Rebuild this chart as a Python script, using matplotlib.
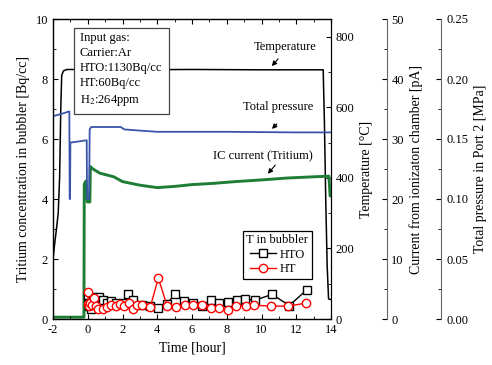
import numpy as np
import matplotlib
matplotlib.use('Agg')
import matplotlib.pyplot as plt
from matplotlib.ticker import MultipleLocator, FormatStrFormatter

plt.rcParams['font.family'] = ['Liberation Serif', 'DejaVu Serif']
plt.rcParams['mathtext.fontset'] = 'stix'
plt.rcParams['font.size'] = 9
plt.rcParams['axes.unicode_minus'] = False

# temperature [degC] vs time [hour]
temp_t = [-2.0, -1.9, -1.8, -1.7, -1.62, -1.55, -1.5, -1.4, -1.2, 2.0, 6.0, 10.0, 13.55,
          13.62, 13.7, 13.78, 13.86, 14.0]
temp_v = [170, 215, 255, 300, 400, 600, 690, 703, 707, 706, 707, 706, 706,
          560, 330, 150, 57, 55]

# total pressure in port 2 [MPa]
pres_t = [-2.0, -1.5, -1.06, -1.04, -1.02, -1.0, -0.5, -0.06, -0.04, 0.08, 0.11, 0.2, 1.0,
          1.9, 2.1, 3.0, 4.0, 8.0, 12.0, 14.0]
pres_v = [0.169, 0.171, 0.173, 0.100, 0.100, 0.147, 0.148, 0.149, 0.100, 0.100, 0.158, 0.160, 0.160,
          0.160, 0.158, 0.157, 0.156, 0.156, 0.1555, 0.1555]

# IC current [pA]
cur_t = [-2.0, -0.22, -0.2, -0.1, -0.02, 0.12, 0.15, 0.3, 0.7, 1.5, 2.0, 3.0, 4.0, 5.0, 6.0,
         7.2, 8.5, 10.1, 11.5, 13.0, 13.88, 13.95, 14.0]
cur_v = [0.3, 0.3, 22.5, 23.0, 19.5, 19.5, 25.4, 25.0, 24.3, 23.7, 22.9, 22.3, 21.9, 22.1, 22.4,
         22.6, 22.9, 23.2, 23.5, 23.7, 23.8, 20.5, 20.5]

# tritium in bubbler [Bq/cc]
hto_t = [0.0, 0.05, 0.1, 0.2, 0.3, 0.45, 0.65, 0.85, 1.1, 1.35, 1.65, 2.0, 2.3, 2.6, 3.1, 3.6,
         4.05, 4.55, 5.05, 5.55, 6.05, 6.55, 7.1, 7.55, 8.1, 8.6, 9.05, 9.6, 10.6, 11.6, 12.6]
hto_v = [0.72, 0.55, 0.45, 0.35, 0.72, 0.65, 0.72, 0.65, 0.55, 0.6, 0.55, 0.55, 0.83, 0.62, 0.47, 0.42,
         0.38, 0.5, 0.85, 0.6, 0.55, 0.45, 0.63, 0.52, 0.58, 0.63, 0.67, 0.62, 0.82, 0.45, 0.97]
ht_t = [0.0, 0.03, 0.08, 0.15, 0.25, 0.35, 0.45, 0.6, 0.85, 1.1, 1.35, 1.6, 1.85, 2.1, 2.35, 2.6,
        2.85, 3.1, 3.6, 4.06, 4.58, 5.07, 5.6, 6.07, 6.6, 7.08, 7.56, 8.09, 8.56, 9.08, 9.56,
        10.55, 11.55, 12.57]
ht_v = [0.9, 0.5, 0.45, 0.55, 0.47, 0.7, 0.42, 0.33, 0.32, 0.4, 0.47, 0.45, 0.5, 0.45, 0.53, 0.32,
        0.47, 0.48, 0.4, 1.36, 0.42, 0.4, 0.48, 0.46, 0.48, 0.37, 0.37, 0.29, 0.42, 0.45, 0.46,
        0.43, 0.43, 0.53]

fig = plt.figure(figsize=(4.92, 3.65), dpi=100)
ax = fig.add_axes([53/492, 46/365, 278/492, 300/365])
ax_t = ax.twinx()
ax_c = ax.twinx()
ax_p = ax.twinx()
ax_c.spines['right'].set_position(('outward', 40))
ax_p.spines['right'].set_position(('outward', 79.5))
ax.set_zorder(3)
ax.patch.set_visible(False)

ax_t.plot(temp_t, temp_v, color='black', lw=1.1)
ax_p.plot(pres_t, pres_v, color='#3a55a8', lw=1.3)
ax_c.plot(cur_t, cur_v, color='#1e7d35', lw=2.1)

ax.plot(hto_t, hto_v, color='black', lw=1.0, marker='s', ms=5.5, mfc='white', mec='black',
        mew=1.0, label='HTO')
ax.plot(ht_t, ht_v, color='red', lw=1.0, marker='o', ms=6, mfc='white', mec='red',
        mew=1.0, label='HT')

ax.set_xlim(-2, 14)
ax.set_ylim(0, 10)
ax_t.set_ylim(0, 850)
ax_c.set_ylim(0, 50)
ax_p.set_ylim(0, 0.25)

ax.xaxis.set_major_locator(MultipleLocator(2))
ax.xaxis.set_minor_locator(MultipleLocator(1))
ax.yaxis.set_major_locator(MultipleLocator(2))
ax.yaxis.set_minor_locator(MultipleLocator(1))
ax_t.yaxis.set_major_locator(MultipleLocator(200))
ax_t.yaxis.set_minor_locator(MultipleLocator(100))
ax_c.yaxis.set_major_locator(MultipleLocator(10))
ax_c.yaxis.set_minor_locator(MultipleLocator(5))
ax_p.yaxis.set_major_locator(MultipleLocator(0.05))
ax_p.yaxis.set_minor_locator(MultipleLocator(0.025))
ax_p.yaxis.set_major_formatter(FormatStrFormatter('%.2f'))

ax.tick_params(which='both', direction='in', top=True, right=False, labelsize=9)
ax.tick_params(which='major', length=3.5)
ax.tick_params(which='minor', length=2)
for a in (ax_t, ax_c, ax_p):
    a.tick_params(which='both', direction='in', labelsize=9)
    a.tick_params(which='major', length=3.5)
    a.tick_params(which='minor', length=2)
for a in (ax_c, ax_p):
    a.spines['right'].set_color('#666666')

ax.set_xlabel('Time [hour]', fontsize=10)
ax.set_ylabel('Tritium concentration in bubbler [Bq/cc]', fontsize=10)
ax_t.set_ylabel('Temperature [°C]', fontsize=10)
ax_c.set_ylabel('Current from ionizaton chamber [pA]', fontsize=10)
ax_p.set_ylabel('Total pressure in Port 2 [MPa]', fontsize=10)

ax.text(-0.45, 9.55, 'Input gas:\nCarrier:Ar\nHTO:1130Bq/cc\nHT:60Bq/cc\nH$_2$:264ppm',
        va='top', ha='left', fontsize=9, linespacing=1.33,
        bbox=dict(boxstyle='square,pad=0.5', fc='white', ec='#444444', lw=0.9))

arrow = dict(arrowstyle='-|>', color='black', lw=0.8, mutation_scale=7)
ax.text(11.35, 9.08, 'Temperature', ha='center', va='center', fontsize=9)
ax.annotate('', xy=(10.49, 8.36), xytext=(11.06, 8.74), arrowprops=arrow)
ax.text(10.95, 7.06, 'Total pressure', ha='center', va='center', fontsize=9)
ax.annotate('', xy=(10.49, 6.27), xytext=(11.0, 6.57), arrowprops=arrow)
ax.text(10.07, 5.41, 'IC current (Tritium)', ha='center', va='center', fontsize=9)
ax.annotate('', xy=(10.26, 4.77), xytext=(10.9, 5.2), arrowprops=arrow)

leg = ax.legend(title='T in bubbler', loc='lower right', bbox_to_anchor=(0.932, 0.133),
                fontsize=9, title_fontsize=9, numpoints=1, handlelength=2.1,
                fancybox=False, edgecolor='black', framealpha=1, borderpad=0.3,
                labelspacing=0.2, handletextpad=0.3, borderaxespad=0)
leg.get_frame().set_linewidth(0.9)

fig.savefig('out.png', dpi=100)
